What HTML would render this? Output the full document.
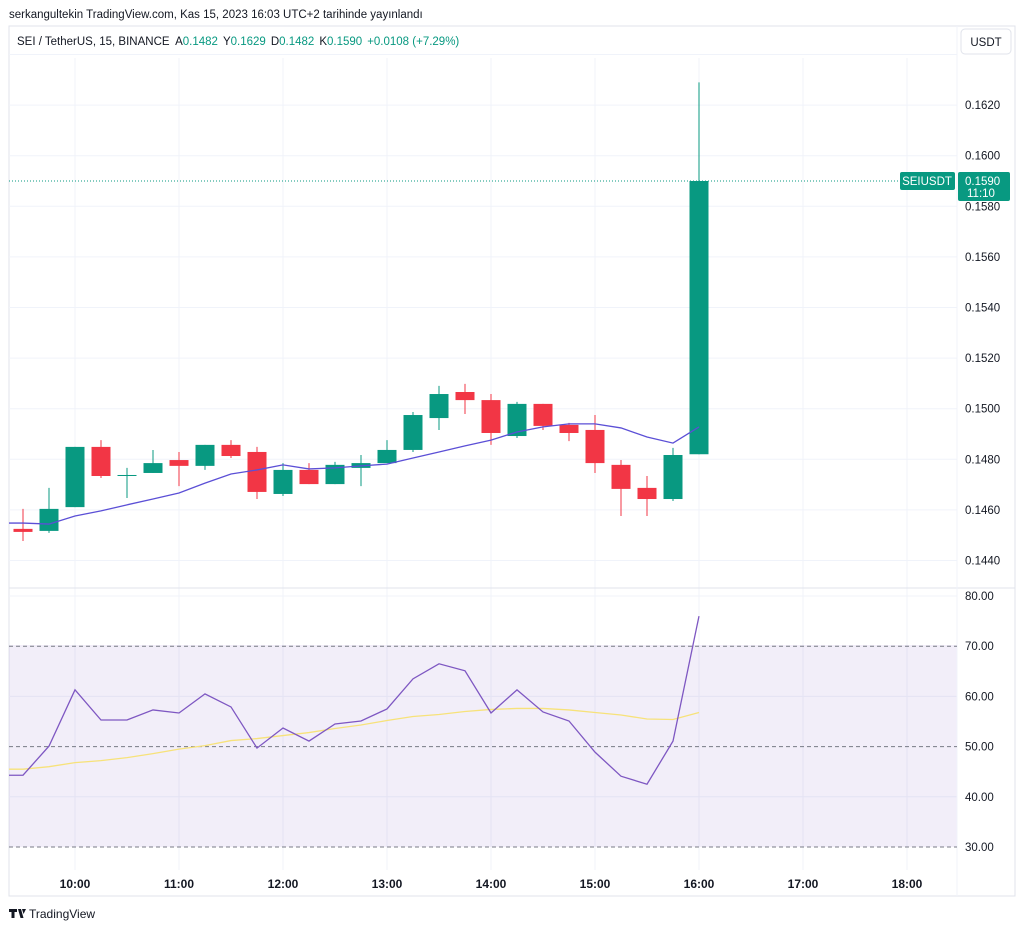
<!DOCTYPE html>
<html><head><meta charset="utf-8"><style>
body{margin:0;width:1024px;height:930px;background:#fff;font-family:"Liberation Sans",sans-serif;overflow:hidden}
svg text{font-family:"Liberation Sans",sans-serif}
</style></head><body>
<svg id="c" width="1024" height="930" xmlns="http://www.w3.org/2000/svg">
<text x="9" y="18" font-size="11.5" fill="#131722">serkangultekin TradingView.com, Kas 15, 2023 16:03 UTC+2 tarihinde yayınlandı</text>
<rect x="9" y="26" width="1006" height="870" fill="none" stroke="#e0e3eb"/>
<g id="grid"></g>
<rect x="9" y="645" width="948" height="202" fill="#7e57c2" fill-opacity="0.1"/>
<line x1="9" y1="588" x2="1015" y2="588" stroke="#e0e3eb"/>
<line x1="957" y1="26" x2="957" y2="896" stroke="#f0f3fa"/>
<g id="rsiLines"></g>
<g id="candles"></g>
<g id="series"></g>
<g id="axes"></g>
<text x="17" y="45" font-size="11.5" fill="#131722">SEI / TetherUS, 15, BINANCE <tspan dx="3">A</tspan><tspan fill="#089981">0.1482</tspan><tspan dx="5">Y</tspan><tspan fill="#089981">0.1629</tspan><tspan dx="5">D</tspan><tspan fill="#089981">0.1482</tspan><tspan dx="5">K</tspan><tspan fill="#089981">0.1590</tspan><tspan dx="5" fill="#089981">+0.0108 (+7.29%)</tspan></text>
<rect x="961" y="29" width="50" height="25" rx="4" fill="#fff" stroke="#e0e3eb"/>
<text x="986" y="46" font-size="11.5" fill="#131722" text-anchor="middle">USDT</text>
<text x="29" y="918" font-size="12" fill="#131722">TradingView</text>
<path d="M9 909h8v3h-2.5v6h-3v-6H9zM18 909h3l2.5 9h-3zM22 909h4l-2.5 5z" fill="#131722"/>
</svg>
<script>
const times=["10:00","11:00","12:00","13:00","14:00","15:00","16:00","17:00","18:00"];
const priceTicks=[0.1440,0.1460,0.1480,0.1500,0.1520,0.1540,0.1560,0.1580,0.1600,0.1620,0.1640];
const rsiTicks=[30,40,50,60,70,80];
const opens =[0.14525,0.14517,0.14611,0.14849,0.14734,0.14746,0.14797,0.14774,0.14857,0.14829,0.14663,0.14758,0.14702,0.14766,0.14785,0.14837,0.14963,0.15066,0.15034,0.14892,0.15019,0.14936,0.14916,0.14778,0.14687,0.14643,0.1482];
const highs =[0.14604,0.14687,0.14849,0.14876,0.14766,0.14837,0.14829,0.14857,0.14876,0.14849,0.14785,0.14785,0.1479,0.14817,0.14876,0.14987,0.1509,0.15098,0.15058,0.15027,0.15019,0.14944,0.14975,0.14797,0.14734,0.14845,0.1629];
const lows  =[0.14477,0.14509,0.14611,0.14726,0.14647,0.14746,0.14694,0.14758,0.14805,0.14643,0.14655,0.14702,0.14702,0.14694,0.14785,0.14829,0.14916,0.14979,0.14857,0.14884,0.14916,0.14872,0.14746,0.14576,0.14576,0.14635,0.1482];
const closes=[0.14513,0.14604,0.14849,0.14734,0.14738,0.14785,0.14774,0.14857,0.14813,0.14671,0.14758,0.14702,0.14778,0.14785,0.14837,0.14975,0.15058,0.15034,0.14904,0.15019,0.14932,0.14904,0.14785,0.14683,0.14643,0.14817,0.1590];
const maValues=[0.14548,0.14544,0.14576,0.14596,0.1462,0.14643,0.14667,0.14706,0.14742,0.14758,0.14778,0.14762,0.14766,0.14774,0.14781,0.14805,0.14829,0.14853,0.14876,0.14908,0.14928,0.1494,0.1494,0.14924,0.14888,0.14864,0.14928];
const rsiValues=[44.3,50.1,61.3,55.3,55.3,57.3,56.7,60.5,57.9,49.7,53.7,51.1,54.5,55.1,57.5,63.5,66.5,65.1,56.7,61.3,56.9,55.1,48.9,44.1,42.5,51.1,76.0];
const rsiMaValues=[45.5,46.0,46.8,47.2,47.8,48.6,49.5,50.2,51.2,51.6,52.2,52.8,53.6,54.3,55.2,56.0,56.4,57.0,57.4,57.6,57.6,57.3,56.8,56.3,55.5,55.4,56.8];
const lastPrice=0.1590;

const NS="http://www.w3.org/2000/svg";
const X0=23, STEP=26, HOUR0X=75;
const xIdx=i=>X0+i*STEP;
const yP=p=>560.5-(p-0.1440)*25300;
const yR=v=>596+(80-v)*5.02;
function mk(tag,parent,attrs){const e=document.createElementNS(NS,tag);for(const k in attrs)e.setAttribute(k,attrs[k]);document.getElementById(parent).appendChild(e);return e;}

times.forEach((t,i)=>{const x=HOUR0X+i*4*STEP;
 const g=mk('line','grid',{x1:x,y1:58,x2:x,y2:870,stroke:'#f0f3fa'});
 
 
 const tx=mk('text','axes',{x:x,y:888,'font-size':12,'font-weight':'bold',fill:'#131722','text-anchor':'middle'});
 tx.textContent=t;
 
 
});
priceTicks.forEach(p=>{const y=yP(p); if(y<50||y>585)return;
 const g=mk('line','grid',{x1:9,y1:y,x2:957,y2:y,stroke:'#f0f3fa'});
 
 
 if(y<62)return;
 const tx=mk('text','axes',{x:965,y:y+4,'font-size':11.5,fill:'#131722'});
 tx.textContent=p.toFixed(4);
 
 
});
rsiTicks.forEach(v=>{const y=yR(v);
 if(v==30||v==50||v==70){const l=mk('line','rsiLines',{x1:9,y1:y,x2:957,y2:y,stroke:'#787b86','stroke-dasharray':'4 3','stroke-width':1});
  
  }
 else{const g=mk('line','grid',{x1:9,y1:y,x2:957,y2:y,stroke:'#f0f3fa'});
  
  }
 const tx=mk('text','axes',{x:965,y:y+4,'font-size':11.5,fill:'#131722'});
 tx.textContent=v.toFixed(2);
 
 
});
opens.forEach((o,i)=>{const c=closes[i],x=xIdx(i),up=c>=o,col=up?'#089981':'#f23645';
 const w=mk('line','candles',{x1:x,y1:yP(highs[i]),x2:x,y2:yP(lows[i]),stroke:col,'stroke-width':1});
 
 
 const top=yP(Math.max(o,c)),h=Math.max(1,Math.abs(yP(o)-yP(c)));
 const b=mk('rect','candles',{x:x-9.5,y:top,width:19,height:h,fill:col});
 
 
});
function poly(vals,yf,col,name,w){let d='M9 '+yf(vals[0]);vals.forEach((v,i)=>d+=' L'+xIdx(i)+' '+yf(v));
 const p=mk('path','series',{d:d,fill:'none',stroke:col,'stroke-width':w});
 
 }
poly(maValues,yP,'#5b4fd6','moving-average-line',1.3);
poly(rsiMaValues,yR,'#f7e27a','rsi-ma-line',1.3);
poly(rsiValues,yR,'#7e57c2','rsi-line',1.3);
const ly=yP(lastPrice);
const dl=mk('line','series',{x1:9,y1:ly,x2:957,y2:ly,stroke:'#089981','stroke-dasharray':'1 2'});


const t1=mk('rect','series',{x:900,y:ly-9,width:55,height:18,rx:2,fill:'#089981'});


const t1t=mk('text','series',{x:927,y:ly+4,'font-size':11.5,fill:'#fff','text-anchor':'middle'});
t1t.textContent='SEIUSDT';


const t2=mk('rect','series',{x:958,y:ly-9,width:52,height:29,rx:2,fill:'#089981'});


const t2t=mk('text','series',{x:965,y:ly+4,'font-size':11.5,fill:'#fff'});
t2t.textContent=lastPrice.toFixed(4);


const t3t=mk('text','series',{x:967,y:ly+16,'font-size':11.5,fill:'#fff'});
t3t.textContent='11:10';


</script>
</body></html>
